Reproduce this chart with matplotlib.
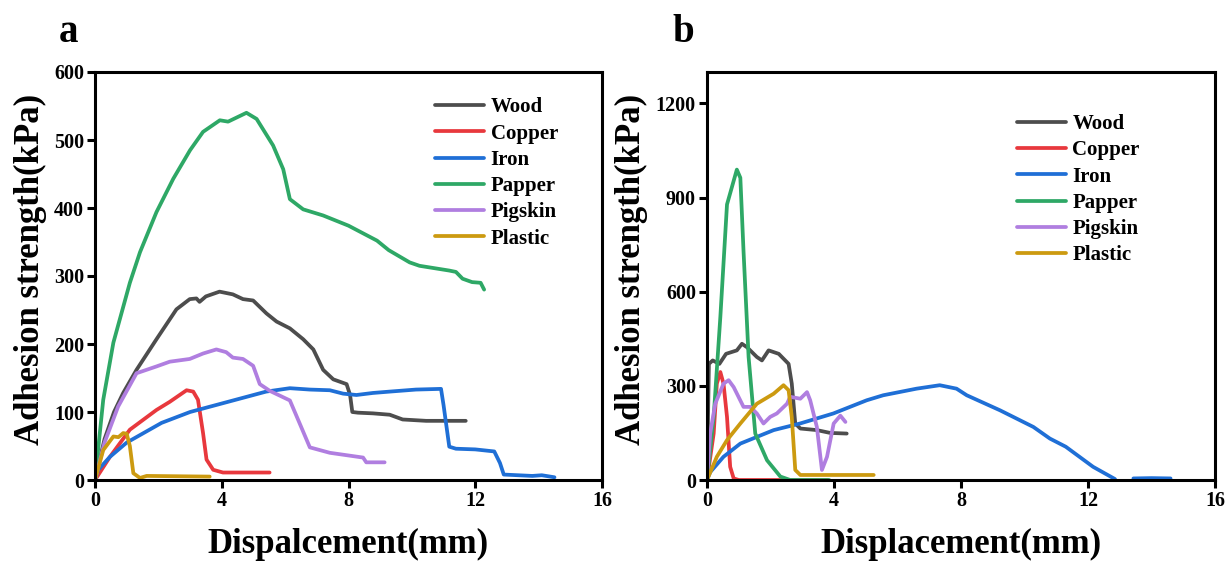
import matplotlib
matplotlib.use("Agg")
import matplotlib.pyplot as plt
import numpy as np

# ---------------- data: panel a ----------------
wood_a_x = [0, 0.3, 0.6, 0.89, 1.31, 1.94, 2.57, 2.99, 3.2, 3.3, 3.5, 3.93, 4.35, 4.67, 4.99, 5.41, 5.73, 6.15, 6.57, 6.89, 7.2, 7.52, 7.94, 8.05, 8.12, 8.3, 8.77, 9.3, 9.71, 10.45, 11.0, 11.7]
wood_a_y = [0, 60, 100, 128, 162, 207, 251, 266, 267, 262, 270, 277, 273, 266, 264, 245, 233, 223, 207, 192, 162, 148, 141, 125, 100, 99, 98, 96, 89, 87, 87, 87]

copper_a_x = [0, 0.47, 1.1, 1.94, 2.36, 2.89, 3.1, 3.25, 3.41, 3.52, 3.73, 4.04, 5.51]
copper_a_y = [0, 34, 74, 103, 115, 132, 130, 118, 69, 30, 15, 11, 11]

iron_a_x = [0, 0.1, 0.47, 1.0, 2.1, 3.0, 4.04, 5.4, 6.15, 6.78, 7.41, 7.83, 8.25, 8.77, 9.3, 10.13, 10.92, 11.0, 11.18, 11.39, 12.0, 12.6, 12.78, 12.9, 13.8, 14.1, 14.5]
iron_a_y = [0, 15, 34, 55, 84, 100, 113, 130, 135, 133, 132, 127, 125, 128, 130, 133, 134, 110, 49, 46, 45, 42, 25, 8, 6, 7, 4]

papper_a_x = [0, 0.26, 0.58, 1.1, 1.42, 1.94, 2.47, 3.0, 3.41, 3.94, 4.2, 4.78, 5.1, 5.62, 5.94, 6.15, 6.57, 7.2, 8.0, 8.9, 9.27, 9.93, 10.24, 11.18, 11.39, 11.6, 11.9, 12.17, 12.28]
papper_a_y = [0, 118, 202, 290, 335, 394, 443, 485, 512, 529, 527, 540, 531, 492, 457, 413, 398, 389, 374, 352, 338, 320, 315, 308, 306, 296, 291, 290, 280]

pigskin_a_x = [0, 0.3, 0.73, 1.31, 1.94, 2.36, 2.99, 3.41, 3.83, 4.14, 4.35, 4.67, 4.99, 5.2, 5.52, 6.15, 6.47, 6.78, 7.41, 8.46, 8.56, 9.14]
pigskin_a_y = [0, 55, 108, 157, 167, 174, 178, 186, 192, 188, 180, 178, 168, 141, 131, 117, 82, 48, 40, 33, 26, 26]

plastic_a_x = [0, 0.26, 0.58, 0.74, 0.89, 1.0, 1.1, 1.21, 1.42, 1.63, 3.62]
plastic_a_y = [0, 44, 64, 63, 69, 68, 50, 10, 3, 6, 5]

# ---------------- data: panel b ----------------
wood_b_x = [0, 0.06, 0.18, 0.39, 0.6, 0.94, 1.1, 1.26, 1.57, 1.73, 1.94, 2.26, 2.57, 2.67, 2.78, 2.94, 3.46, 3.88, 4.4]
wood_b_y = [0, 370, 381, 370, 402, 413, 434, 423, 392, 381, 413, 402, 370, 307, 180, 164, 159, 150, 148]

copper_b_x = [0, 0.21, 0.31, 0.42, 0.52, 0.63, 0.73, 0.84, 1.0, 3.8]
copper_b_y = [0, 148, 307, 344, 307, 201, 42, 5, 0, 0]

iron_b_x = [0, 0.1, 0.52, 1.05, 2.1, 2.93, 3.98, 5.03, 5.55, 6.6, 7.33, 7.86, 8.18, 9.23, 10.28, 10.8, 11.3, 12.16, 12.85, 13.1, 13.43, 14.0, 14.6]
iron_b_y = [0, 25, 74, 116, 159, 180, 212, 254, 270, 291, 302, 291, 270, 222, 169, 132, 106, 42, 3, np.nan, 5, 6, 5]

papper_b_x = [0, 0.21, 0.42, 0.63, 0.94, 1.05, 1.15, 1.31, 1.52, 1.89, 2.31, 2.62, 3.85]
papper_b_y = [0, 201, 519, 878, 989, 963, 730, 392, 148, 63, 11, 0, 0]

pigskin_b_x = [0, 0.1, 0.26, 0.52, 0.68, 0.84, 1.15, 1.36, 1.57, 1.78, 1.99, 2.2, 2.52, 2.62, 2.94, 3.15, 3.25, 3.46, 3.62, 3.78, 3.99, 4.2, 4.36]
pigskin_b_y = [0, 148, 243, 307, 318, 296, 233, 233, 212, 180, 201, 212, 243, 265, 259, 280, 254, 169, 32, 74, 180, 205, 185]

plastic_b_x = [0, 0.31, 0.63, 1.05, 1.57, 2.1, 2.41, 2.57, 2.67, 2.78, 2.94, 5.25]
plastic_b_y = [0, 74, 127, 180, 243, 275, 302, 286, 201, 32, 16, 16]

names = ["Wood", "Copper", "Iron", "Papper", "Pigskin", "Plastic"]
colors = ["#4d4d4d", "#e8383d", "#1f6fd6", "#2ea866", "#b07ee0", "#cc9a10"]

panel_a = [(wood_a_x, wood_a_y), (copper_a_x, copper_a_y), (iron_a_x, iron_a_y),
           (papper_a_x, papper_a_y), (pigskin_a_x, pigskin_a_y), (plastic_a_x, plastic_a_y)]
panel_b = [(wood_b_x, wood_b_y), (copper_b_x, copper_b_y), (iron_b_x, iron_b_y),
           (papper_b_x, papper_b_y), (pigskin_b_x, pigskin_b_y), (plastic_b_x, plastic_b_y)]

plt.rcParams['font.family'] = ['Liberation Serif', 'DejaVu Serif']
plt.rcParams['font.weight'] = 'bold'

fig = plt.figure(figsize=(12.29, 5.67), dpi=100)
W, H = 1229, 567
ax_a = fig.add_axes([95 / W, 1 - 480 / H, (602 - 95) / W, (480 - 72) / H])
ax_b = fig.add_axes([707 / W, 1 - 480 / H, (1215 - 707) / W, (480 - 72) / H])


def style(ax, ylim, yticks, xlabel, leg_anchor, ylab_x):
    ax.set_xlim(0, 16)
    ax.set_ylim(*ylim)
    ax.set_xticks([0, 4, 8, 12, 16])
    ax.set_yticks(yticks)
    for s in ax.spines.values():
        s.set_linewidth(2.2)
    ax.tick_params(direction='out', length=6, width=2.2, labelsize=14.5, pad=2)
    for lab in ax.get_xticklabels() + ax.get_yticklabels():
        lab.set_fontweight('bold')
    ax.set_xlabel(xlabel, fontsize=25, fontweight='bold')
    ax.xaxis.label.set_va('center')
    ax.xaxis.set_label_coords(0.5, (480 - 544) / 408)
    ax.set_ylabel("Adhesion strength(kPa)", fontsize=25, fontweight='bold')
    ax.yaxis.label.set_va('center')
    ax.yaxis.set_label_coords(ylab_x, 0.515)
    ax.legend(loc='upper left', bbox_to_anchor=leg_anchor, frameon=False,
              prop={'family': 'Liberation Serif', 'weight': 'bold', 'size': 15},
              handlelength=2.35, handletextpad=0.3, labelspacing=0.3, borderaxespad=0)


for (x, y), n, c in zip(panel_a, names, colors):
    ax_a.plot(x, y, color=c, lw=2.7, label=n, solid_capstyle='round', solid_joinstyle='round')
for (x, y), n, c in zip(panel_b, names, colors):
    ax_b.plot(x, y, color=c, lw=2.7, label=n, solid_capstyle='round', solid_joinstyle='round')

style(ax_a, (0, 600), [0, 100, 200, 300, 400, 500, 600], "Dispalcement(mm)", (0.655, 0.958), (30 - 95) / 507)
style(ax_b, (0, 1300), [0, 300, 600, 900, 1200], "Displacement(mm)", (0.594, 0.917), (631 - 707) / 508)

fig.text(68 / W, 1 - 33 / H, "a", fontsize=28, fontweight='bold', ha='center', va='center')
fig.text(683 / W, 1 - 33 / H, "b", fontsize=28, fontweight='bold', ha='center', va='center')

fig.savefig("out.png", dpi=100)
